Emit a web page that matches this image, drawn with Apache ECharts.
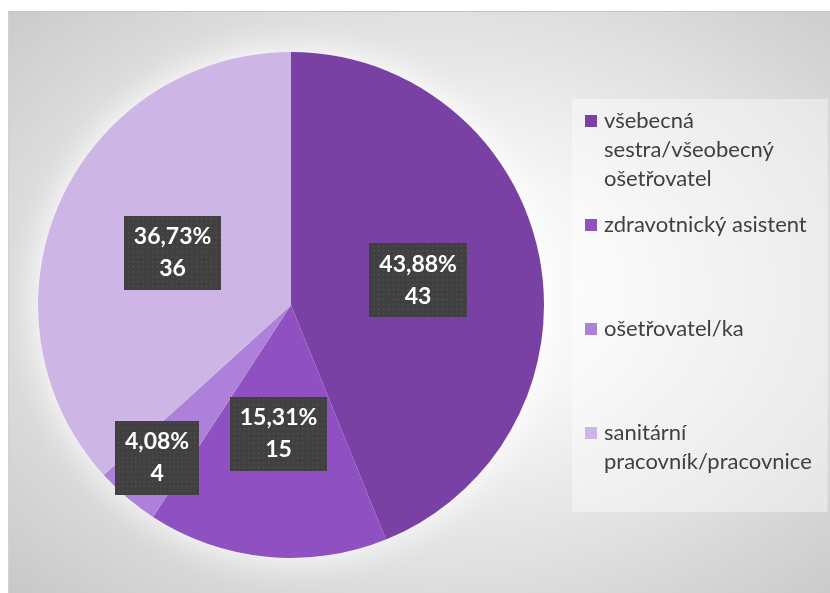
<!DOCTYPE html>
<html>
<head>
<meta charset="utf-8">
<script src="https://cdn.jsdelivr.net/npm/echarts@6/dist/echarts.min.js"></script>
<style>
  html, body { margin: 0; padding: 0; background: #ffffff; }
  #frame {
    position: absolute; left: 8px; top: 11px; width: 821px; height: 581px;
    border-top: 1px solid #c4c4c4; border-left: 1px solid #d2d2d2;
    background: radial-gradient(ellipse farthest-corner at 52% 48%, #ffffff 0%, #f6f6f6 30%, #e0e0e0 65%, #c8c8c8 100%);
  }
  #chart { position: absolute; left: 0; top: 0; width: 830px; height: 593px; }
</style>
</head>
<body>
<div id="frame"></div>
<div id="chart"></div>
<script>
// Staff composition by profession
const categories = [
  'všebecná sestra/všeobecný ošetřovatel',
  'zdravotnický asistent',
  'ošetřovatel/ka',
  'sanitární pracovník/pracovnice'
];
const counts = [43, 15, 4, 36];
const sliceColors = ['#7a41a4', '#8f50c2', '#ad80da', '#cdb6e6'];

const FONT = 'Lato, "Open Sans", sans-serif';
const total = counts.reduce((a, b) => a + b, 0);

// the narrow slice carries its label further out
const labelNudge = { 2: [-50, 54] };

// dotted texture for the label boxes
function dottedTile(w, h) {
  const c = document.createElement('canvas');
  c.width = w; c.height = h;
  const g = c.getContext('2d');
  g.fillStyle = '#404040';
  g.fillRect(0, 0, w, h);
  g.fillStyle = '#565656';
  for (let y = 2; y < h; y += 5) {
    for (let x = ((y / 5) % 2 ? 4 : 1); x < w; x += 5) {
      g.fillRect(x, y, 1.4, 1.4);
    }
  }
  return c;
}
const tile = dottedTile(100, 76);

// wrap a legend name into lines of at most 21 characters
function wrap(name, max) {
  const words = name.split(' ');
  const lines = [];
  let cur = '';
  words.forEach(w => {
    if (!cur) cur = w;
    else if ((cur + ' ' + w).length <= max) cur += ' ' + w;
    else { lines.push(cur); cur = w; }
  });
  if (cur) lines.push(cur);
  return lines;
}

const legendRich = {
  s: { width: 12, height: 12 },
  t: { fontSize: 22, fontFamily: FONT, color: '#404040', lineHeight: 29, padding: [0, 0, 0, 7] }
};
sliceColors.forEach((c, i) => {
  legendRich['m' + i] = { width: 12, height: 12, backgroundColor: c };
});

const pieData = categories.map((name, i) => {
  const item = { name: name, value: counts[i], itemStyle: { color: sliceColors[i] } };
  if (labelNudge[i]) item.label = { offset: labelNudge[i] };
  return item;
});

const chart = echarts.init(document.getElementById('chart'), null, { renderer: 'canvas' });
chart.setOption({
  animation: false,
  backgroundColor: 'transparent',
  legend: {
    orient: 'vertical',
    left: 572,
    top: 99,
    padding: [11, 16, 10, 8],
    itemWidth: 0,
    itemHeight: 0,
    itemGap: 24,
    backgroundColor: 'rgba(255,255,255,0.4)',
    data: categories,
    formatter: function (name) {
      const idx = categories.indexOf(name);
      const lines = wrap(name, 21);
      while (lines.length < 3) lines.push('\u00a0');
      return lines.map((l, j) => (j === 0 ? '{m' + idx + '|}' : '{s|}') + '{t|' + l + '}').join('\n');
    },
    textStyle: { rich: legendRich }
  },
  series: [
    {
      // soft white glow behind the pie
      type: 'pie',
      silent: true,
      legendHoverLink: false,
      center: [291, 305],
      radius: [0, 253],
      startAngle: 90,
      clockwise: true,
      label: { show: false },
      labelLine: { show: false },
      itemStyle: { color: '#ffffff', borderWidth: 0, shadowBlur: 35, shadowColor: 'rgba(255,255,255,1)' },
      emphasis: { disabled: true },
      data: categories.map((name, i) => ({ name: name, value: counts[i], itemStyle: { color: '#ffffff' } }))
    },
    {
      type: 'pie',
      center: [291, 305],
      radius: [0, 253],
      startAngle: 90,
      clockwise: true,
      avoidLabelOverlap: false,
      itemStyle: { borderWidth: 0 },
      emphasis: { scale: false },
      labelLine: { show: false },
      label: {
        show: true,
        position: 'inside',
        formatter: function (p) {
          const pct = (p.value / total * 100).toFixed(2).replace('.', ',');
          return pct + '%\n' + p.value;
        },
        color: '#ffffff',
        fontFamily: FONT,
        fontWeight: 'bold',
        fontSize: 23,
        lineHeight: 32,
        align: 'center',
        padding: [5, 10, 5, 10],
        backgroundColor: { image: tile },
        shadowColor: 'rgba(0,0,0,0.45)',
        shadowBlur: 5,
        shadowOffsetX: 3,
        shadowOffsetY: 3
      },
      data: pieData
    }
  ]
});
</script>
</body>
</html>
